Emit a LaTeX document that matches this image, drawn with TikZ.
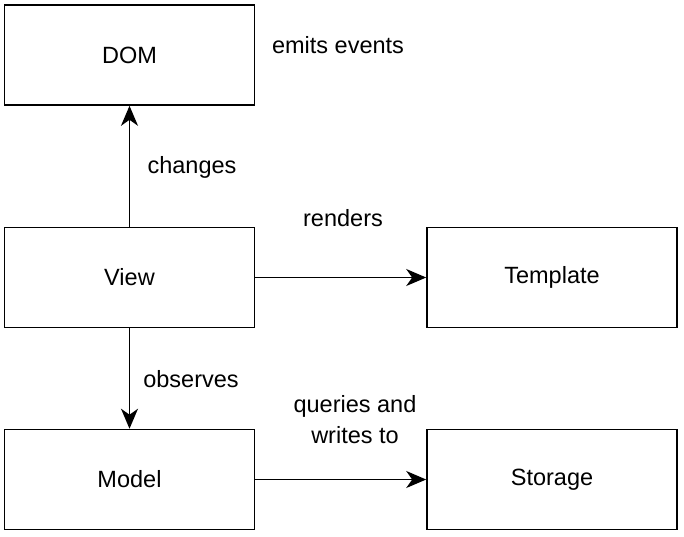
\documentclass[tikz,border=0pt]{standalone}
\usepackage{fontspec}
\setmainfont{Liberation Sans}
\usetikzlibrary{arrows.meta}

\begin{document}
\begin{tikzpicture}[x=1pt,y=-1pt,
		font=\fontsize{23.5}{31}\selectfont,
		box/.style={draw,line width=1.6pt,minimum width=250pt,minimum height=100pt,inner sep=0pt},
		link/.style={line width=1.6pt,-{Stealth[length=20pt,width=17pt,inset=6pt]}},
		lbl/.style={inner sep=0pt,align=center}]
			\useasboundingbox (0,0) rectangle (684,536);
			\node[box] (dom) at (129.5,55) {DOM};
			\node[box] (view) at (129.5,277.5) {View};
			\node[box] (model) at (129.5,479.5) {Model};
			\node[box] (template) at (552,277.5) {Template};
			\node[box] (storage) at (552,479.5) {Storage};
			\draw[link] (view) -- (dom);
			\draw[link] (view) -- (template);
			\draw[link] (view) -- (model);
			\draw[link] (model) -- (storage);
			\node[lbl] (emits) at (338,45) {emits events};
			\node[lbl] (changes) at (192,167) {changes};
			\node[lbl] (renders) at (343,218) {renders};
			\node[lbl] (observes) at (191,379) {observes};
			\node[lbl] (queries) at (355,420) {queries and\\ writes to};
			\end{tikzpicture}
\end{document}
